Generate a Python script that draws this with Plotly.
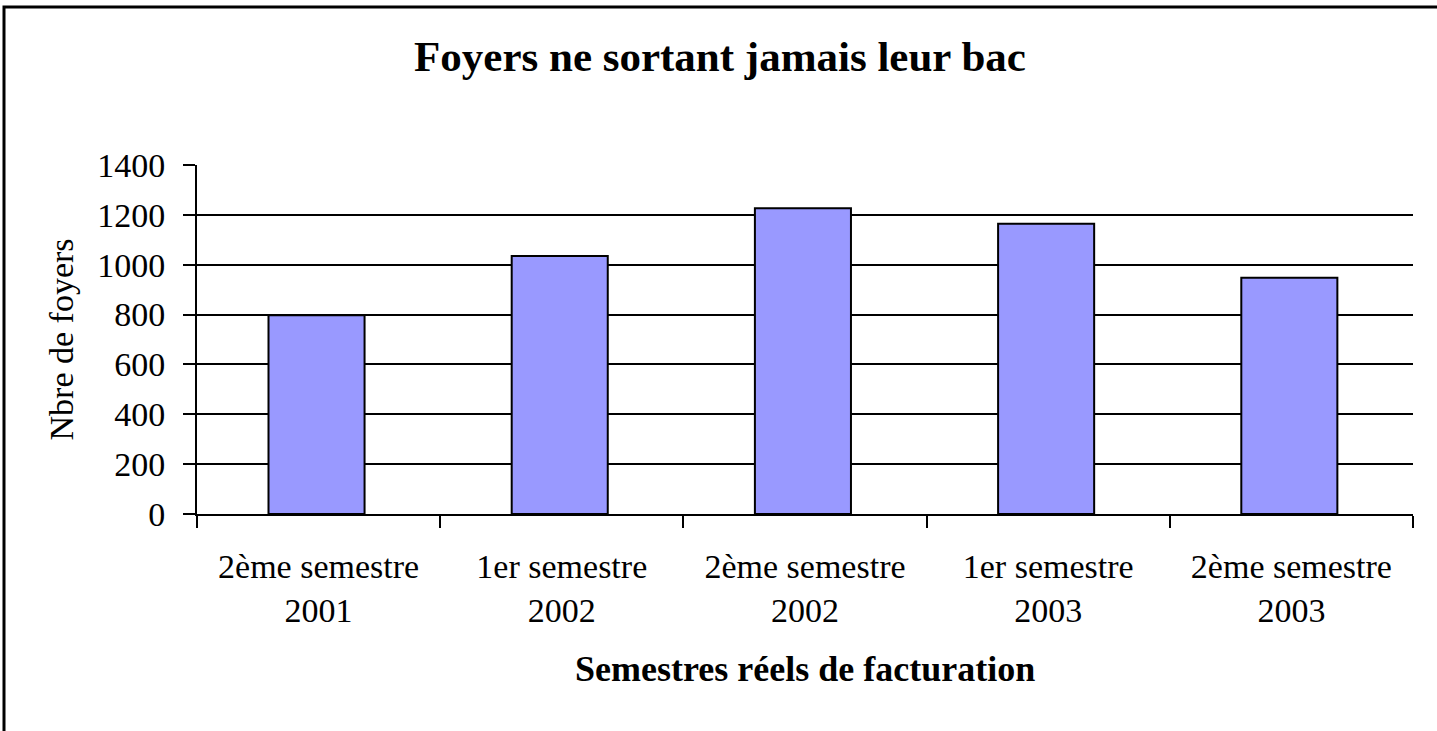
import plotly.graph_objects as go

semestres = ["2ème semestre", "1er semestre", "2ème semestre", "1er semestre", "2ème semestre"]
annees = ["2001", "2002", "2002", "2003", "2003"]
foyers = [797, 1035, 1227, 1164, 948]
y_ticks = [0, 200, 400, 600, 800, 1000, 1200, 1400]

categories = [f"{s} {a}" for s, a in zip(semestres, annees)]
ticktext = [f"{s}<br>{a}" for s, a in zip(semestres, annees)]

FONT = "Liberation Serif, Times New Roman, serif"

fig = go.Figure()
fig.add_trace(go.Bar(
    x=categories, y=foyers,
    marker=dict(color="#9999FF", line=dict(color="black", width=2)),
    width=0.395, offset=-0.206,
))

L, R, T, B = 197, 24, 165, 217
W, H = 1437, 731
pw, ph = W - L - R, H - T - B

fig.update_layout(
    width=W, height=H,
    margin=dict(l=L, r=R, t=T, b=B),
    paper_bgcolor="white", plot_bgcolor="white",
    font=dict(family=FONT, size=34, color="black"),
    showlegend=False,
    title=dict(text="<b>Foyers ne sortant jamais leur bac</b>",
               font=dict(family=FONT, size=43, color="black"),
               x=720 / W, xanchor="center", y=1 - 56 / H, yanchor="middle"),
    xaxis=dict(
        type="category",
        tickmode="array", tickvals=categories, ticktext=ticktext,
        tickson="boundaries", ticks="outside", ticklen=12, tickwidth=2, tickcolor="black",
        showline=True, linecolor="black", linewidth=2,
        showgrid=False,
        tickfont=dict(family=FONT, size=34, color="black"),
        ticklabelstandoff=21,
    ),
    yaxis=dict(
        range=[0, 1400], tickvals=y_ticks,
        ticks="outside", ticklen=12, tickwidth=2, tickcolor="black",
        showline=True, linecolor="black", linewidth=2,
        showgrid=True, gridcolor="black", gridwidth=2,
        zeroline=False,
        tickfont=dict(family=FONT, size=34, color="black"),
        ticklabelstandoff=11,
    ),
    shapes=[dict(type="rect", xref="paper", yref="paper",
                 x0=(4 - L) / pw, x1=(W + 10 - L) / pw,
                 y0=-(H + 10 - (T + ph)) / ph, y1=(T + ph - 7) / ph,
                 line=dict(color="black", width=3), fillcolor="rgba(0,0,0,0)",
                 layer="below")],
    annotations=[
        dict(text="<b>Semestres réels de facturation</b>", xref="paper", yref="paper",
             x=0.5, y=-(669 - (T + ph)) / ph, xanchor="center", yanchor="middle",
             showarrow=False, font=dict(family=FONT, size=36, color="black")),
        dict(text="Nbre de foyers", xref="paper", yref="paper", textangle=-90,
             x=(61 - L) / pw, y=0.5, xanchor="center", yanchor="middle",
             showarrow=False, font=dict(family=FONT, size=34, color="black")),
    ],
)

fig.write_html("out.html",
               config={"displayModeBar": False},
               post_script="document.body.style.margin='0';document.body.style.overflow='hidden';")
